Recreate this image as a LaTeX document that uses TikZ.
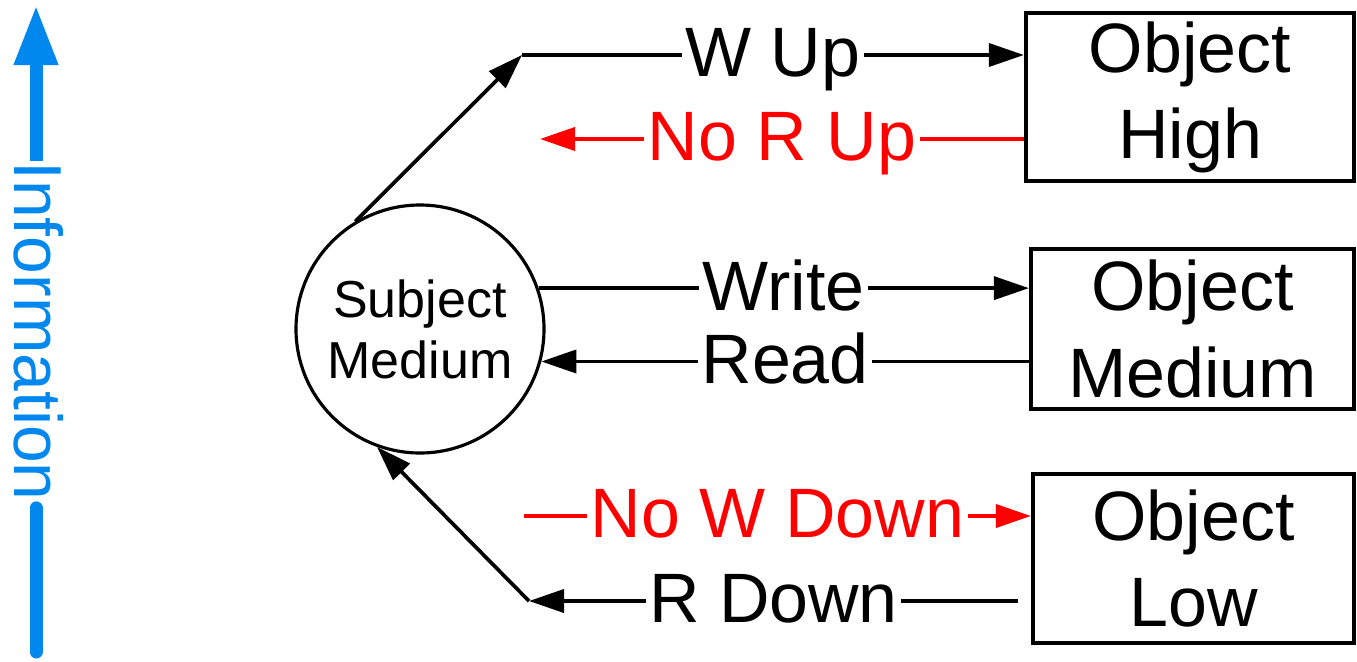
\documentclass[tikz,border=0pt]{standalone}
\usepackage{fontspec}
\setmainfont{Liberation Sans}
\usetikzlibrary{arrows.meta}
\definecolor{infoblue}{RGB}{0,136,238}
\definecolor{nored}{RGB}{255,0,0}

\begin{document}
\begin{tikzpicture}[>={Triangle[length=0.35cm, width=0.23cm]},
        subjnode/.style={draw, circle, line width=0.9pt, minimum size=2.48cm, inner sep=0pt, align=center, font=\fontsize{14.8pt}{17.4pt}\selectfont},
        objnode/.style={draw, line width=1.2pt, inner sep=0pt, align=center, font=\fontsize{19.9pt}{24.5pt}\selectfont},
        lbl/.style={fill=white, inner xsep=1pt, inner ysep=0pt, text height=16.5pt, text depth=4pt, font=\fontsize{19.9pt}{24pt}\selectfont},
        flow/.style={line width=1.05pt},
        noflow/.style={line width=1.1pt, nored},
        infotext/.style={rotate=-90, inner sep=0pt, text=infoblue, font=\fontsize{19.3pt}{23pt}\selectfont},
        infoline/.style={line width=0.13cm, infoblue}]
    \useasboundingbox (0, 0) rectangle (13.57, -6.61);

    \node[subjnode] (subj) at (4.20, -3.29) {Subject\\Medium};
    \node[objnode, minimum width=3.28cm, minimum height=1.68cm] (high) at (11.90, -0.97) {Object\\High};
    \node[objnode, minimum width=3.23cm, minimum height=1.60cm] (med) at (11.925, -3.29) {Object\\Medium};
    \node[objnode, minimum width=3.21cm, minimum height=1.69cm] (low) at (11.935, -5.585) {Object\\Low};

    \coordinate (wup) at (5.22, -0.55);
    \coordinate (norup) at (5.40, -1.39);
    \coordinate (nowdown) at (5.24, -5.16);
    \coordinate (rdown) at (10.18, -6.01);
    \coordinate (rdcorner) at (5.29, -6.01);

    \draw[flow, ->] (subj.121) -- (wup);
    \draw[flow, ->] (wup) -- node[lbl] {W Up} (wup -| high.west);
    \draw[noflow, ->] (high.west |- norup) -- node[lbl] {No R Up} (norup);
    \draw[flow, ->] (subj.19) -- node[lbl] {Write} (subj.19 -| med.west);
    \draw[flow, ->] (med.west |- subj.-15) -- node[lbl] {Read} (subj.-15);
    \draw[noflow, ->] (nowdown) -- node[lbl] {No W Down} (nowdown -| low.west);
    \draw[flow, ->] (rdown) -- node[lbl] {R Down} (rdcorner);
    \draw[flow, ->] (rdcorner) -- (subj.-110);

    \coordinate (infotop) at (0.36, -0.05);
    \coordinate (infobot) at (0.36, -6.52);
    \node[infotext] (info) at (0.385, -3.31) {Information};
    \draw[infoline, -{Triangle[length=0.6cm, width=0.41cm]}] (info.west -| infotop) -- (infotop);
    \draw[infoline, line cap=round, shorten <=0.065cm] (info.east -| infobot) -- (infobot);
\end{tikzpicture}
\end{document}
